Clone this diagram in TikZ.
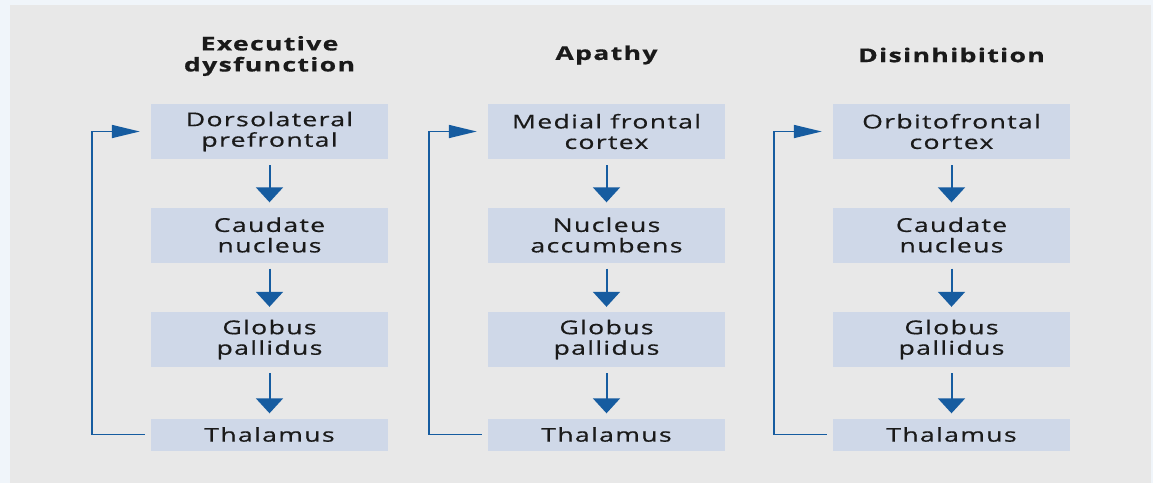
\documentclass[tikz,border=0pt]{standalone}
\usepackage{fontspec}
\setmainfont{Open Sans}[FakeStretch=1.4,LetterSpace=7,FakeBold=0.6]
\usetikzlibrary{arrows.meta,positioning}
\definecolor{FrameBlue}{RGB}{240,245,250}
\definecolor{PanelGray}{RGB}{232,232,232}
\definecolor{BoxBlue}{RGB}{207,216,232}
\definecolor{FlowBlue}{RGB}{22,92,160}
\definecolor{InkBlack}{RGB}{26,26,26}
\tikzset{
  region/.style={fill=BoxBlue,minimum width=237pt,minimum height=55pt,inner sep=0pt,
    align=center,text=InkBlack,font=\fontsize{19}{20.5}\selectfont},
  thalbox/.style={region,minimum height=32pt},
  heading/.style={align=center,text=InkBlack,font=\fontsize{19}{21}\selectfont\bfseries},
  flow/.style={-{Triangle[length=15pt,width=27pt]},line width=2pt,FlowBlue,shorten <=6pt,shorten >=5pt},
  loopback/.style={-{Triangle[length=28pt,width=13pt]},line width=1.6pt,FlowBlue}
}

\begin{document}
\begin{tikzpicture}[x=1pt,y=-1pt]
  \fill[FrameBlue] (0,0) rectangle (1153,483);
  \fill[PanelGray] (10,5) rectangle (1151,483);
  % executive dysfunction
  \node[heading] (hexec) at (269.5,56) {Executive\\dysfunction};
  \node[region] (dlpf) at (269.5,131.5) {Dorsolateral\\prefrontal};
  \node[region] (caud1) at (269.5,235) {Caudate\\nucleus};
  \node[region] (glob1) at (269.5,339.5) {Globus\\pallidus};
  \node[thalbox] (thal1) at (269.5,434.5) {Thalamus};
  \draw[flow] (dlpf) -- (caud1);
  \draw[flow] (caud1) -- (glob1);
  \draw[flow] (glob1) -- (thal1);
  \draw[loopback] ([xshift=-6pt]thal1.west) -| ([xshift=-59pt]dlpf.west) -- ([xshift=-11pt]dlpf.west);
  % apathy
  \node[heading] (hapathy) at (606.5,55) {Apathy};
  \node[region] (mfc) at (606.5,131.5) {Medial frontal\\cortex};
  \node[region] (nacc) at (606.5,235) {Nucleus\\accumbens};
  \node[region] (glob2) at (606.5,339.5) {Globus\\pallidus};
  \node[thalbox] (thal2) at (606.5,434.5) {Thalamus};
  \draw[flow] (mfc) -- (nacc);
  \draw[flow] (nacc) -- (glob2);
  \draw[flow] (glob2) -- (thal2);
  \draw[loopback] ([xshift=-6pt]thal2.west) -| ([xshift=-59pt]mfc.west) -- ([xshift=-11pt]mfc.west);
  % disinhibition
  \node[heading] (hdisinh) at (951.5,55) {Disinhibition};
  \node[region] (ofc) at (951.5,131.5) {Orbitofrontal\\cortex};
  \node[region] (caud3) at (951.5,235) {Caudate\\nucleus};
  \node[region] (glob3) at (951.5,339.5) {Globus\\pallidus};
  \node[thalbox] (thal3) at (951.5,434.5) {Thalamus};
  \draw[flow] (ofc) -- (caud3);
  \draw[flow] (caud3) -- (glob3);
  \draw[flow] (glob3) -- (thal3);
  \draw[loopback] ([xshift=-6pt]thal3.west) -| ([xshift=-59pt]ofc.west) -- ([xshift=-11pt]ofc.west);
\end{tikzpicture}
\end{document}
